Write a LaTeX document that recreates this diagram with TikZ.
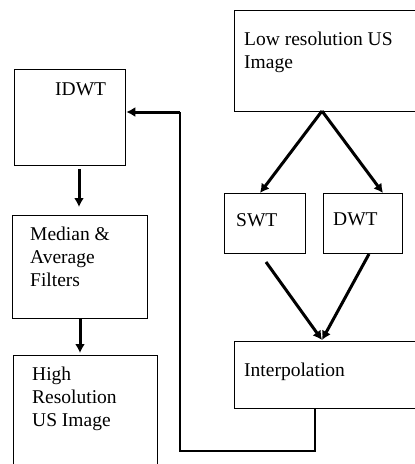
\documentclass[tikz,border=0pt]{standalone}
\usepackage{fontspec}
\setmainfont{Liberation Serif}
\usetikzlibrary{positioning,arrows.meta}
\tikzset{
  box/.style={draw, line width=1.3pt, inner sep=0pt, anchor=north west},
  boxtext/.style={inner sep=0pt, anchor=north west, align=left, font=\fontsize{19.5}{23}\selectfont},
  flow/.style={-{Latex[length=9pt,width=10pt]}, line width=3pt},
  back/.style={line width=1.3pt}
}
\def\canvas{(0,0) rectangle (415,464)}

\begin{document}
\begin{tikzpicture}[x=1pt,y=-1pt]
\clip \canvas;
% boxes
\node[box, minimum width=183pt, minimum height=101pt] (lowres) at (234,10) {};
\node[box, minimum width=111pt, minimum height=96pt] (idwt) at (14,69) {};
\node[box, minimum width=81pt, minimum height=60pt] (swt) at (224,193) {};
\node[box, minimum width=79pt, minimum height=60pt] (dwt) at (323,193) {};
\node[box, minimum width=135pt, minimum height=103pt] (filters) at (12,215) {};
\node[box, minimum width=183pt, minimum height=67pt] (interp) at (234,341) {};
\node[box, minimum width=144pt, minimum height=120pt] (highres) at (13,355) {};
% texts
\node[boxtext] (lowrestext) at ([shift={(10,22)}]lowres.north west) {Low resolution US\\Image};
\node[boxtext] (idwttext) at ([shift={(41,14)}]idwt.north west) {IDWT};
\node[boxtext] (swttext) at ([shift={(12,20)}]swt.north west) {SWT};
\node[boxtext] (dwttext) at ([shift={(10,20)}]dwt.north west) {DWT};
\node[boxtext] (filterstext) at ([shift={(18,12)}]filters.north west) {Median \&\\Average\\Filters};
\node[boxtext] (interptext) at ([shift={(10,22)}]interp.north west) {Interpolation};
\node[boxtext] (highrestext) at ([shift={(19,12)}]highres.north west) {High\\Resolution\\US Image};
% connectors
\coordinate (split) at (322,111);
\coordinate (merge) at (322,340);
\coordinate (swtout) at (266,262);
\coordinate (dwtout) at (369,254);
\draw[flow] (split) -- (260,193);
\draw[flow] (split) -- (383,193);
\draw[flow] (swtout) -- (merge);
\draw[flow] (dwtout) -- (merge);
\draw[flow] (idwt.south -| 79,0) ++(0,3) -- (79,207);
\draw[flow] (filters.south -| 80,0) -- (80,353);
% feedback loop
\coordinate (turn) at (180,112);
\draw[back] (interp.south -| 315,0) |- (180,451) -- (turn);
\draw[flow] (turn) -- (turn -| idwt.east);
\end{tikzpicture}
\end{document}
